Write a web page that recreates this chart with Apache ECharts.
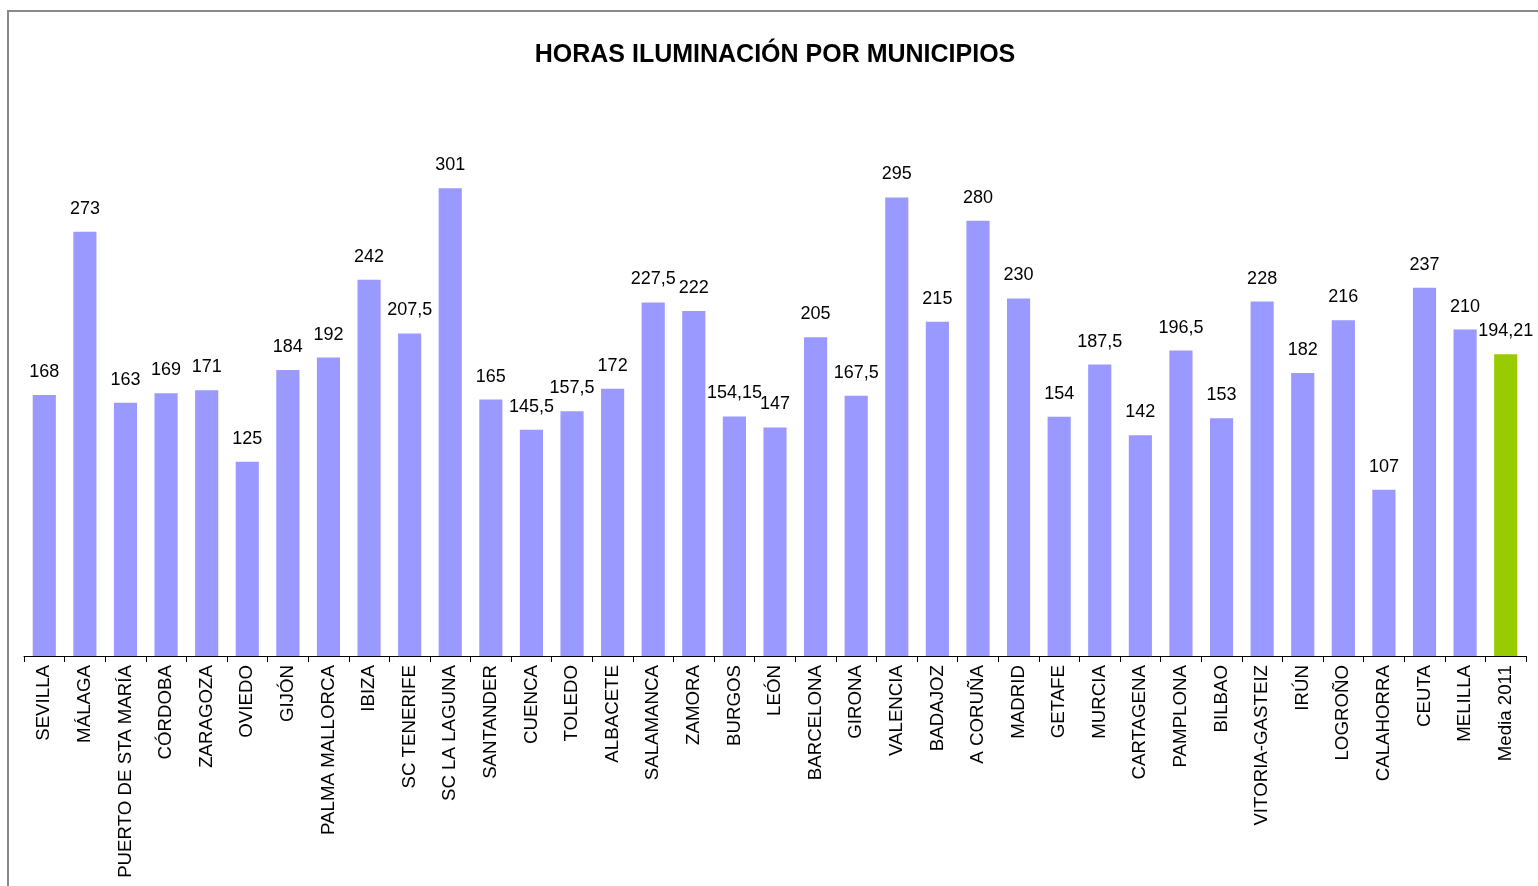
<!DOCTYPE html>
<html>
<head>
<meta charset="utf-8">
<script src="https://cdn.jsdelivr.net/npm/echarts@6/dist/echarts.min.js"></script>
<style>
    html, body { margin: 0; padding: 0; background: #fff; }
    #chart { width: 1538px; height: 886px; }
</style>
</head>
<body>
<div id="chart"></div>
<script>
    // municipios y horas de iluminación
    const categories = ['SEVILLA', 'MÁLAGA', 'PUERTO DE STA MARÍA', 'CÓRDOBA', 'ZARAGOZA', 'OVIEDO', 'GIJÓN',
        'PALMA MALLORCA', 'IBIZA', 'SC TENERIFE', 'SC LA LAGUNA', 'SANTANDER', 'CUENCA', 'TOLEDO', 'ALBACETE',
        'SALAMANCA', 'ZAMORA', 'BURGOS', 'LEÓN', 'BARCELONA', 'GIRONA', 'VALENCIA', 'BADAJOZ', 'A CORUÑA',
        'MADRID', 'GETAFE', 'MURCIA', 'CARTAGENA', 'PAMPLONA', 'BILBAO', 'VITORIA-GASTEIZ', 'IRÚN', 'LOGROÑO',
        'CALAHORRA', 'CEUTA', 'MELILLA', 'Media 2011'];
    const horas = [168, 273, 163, 169, 171, 125, 184, 192, 242, 207.5, 301, 165, 145.5, 157.5, 172,
        227.5, 222, 154.15, 147, 205, 167.5, 295, 215, 280, 230, 154, 187.5, 142, 196.5, 153, 228, 182, 216,
        107, 237, 210, 194.21];
    const mediaLabel = 'Media 2011';

    const barColor = '#9999FF';
    const mediaColor = '#99CC00';
    const font = 'Liberation Sans, Arial, sans-serif';

    const chart = echarts.init(document.getElementById('chart'));
    chart.setOption({
        backgroundColor: '#fff',
        animation: false,
        title: {
            text: 'HORAS ILUMINACIÓN POR MUNICIPIOS',
            left: 770,
            top: 38,
            textAlign: 'center',
            textStyle: { fontFamily: font, fontSize: 25, fontWeight: 'bold', color: '#000' }
        },
        graphic: [{
            type: 'rect',
            shape: { x: 8, y: 11, width: 1540, height: 890 },
            style: { fill: 'none', stroke: '#888', lineWidth: 2 },
            silent: true
        }],
        grid: { left: 24, right: 12, top: 112, bottom: 230 },
        xAxis: {
            type: 'category',
            data: categories,
            axisLine: { lineStyle: { color: '#000', width: 1 } },
            axisTick: { show: true, length: 6, lineStyle: { color: '#000' } },
            axisLabel: {
                rotate: 90,
                interval: 0,
                margin: 9,
                fontFamily: font,
                fontSize: 18.7,
                color: '#000'
            }
        },
        yAxis: {
            type: 'value',
            min: 0,
            max: 350,
            show: false,
            splitLine: { show: false }
        },
        series: [{
            type: 'bar',
            barWidth: '57%',
            data: horas.map((v, i) => ({
                value: v,
                itemStyle: { color: categories[i] === mediaLabel ? mediaColor : barColor }
            })),
            label: {
                show: true,
                position: 'top',
                distance: 14,
                fontFamily: font,
                fontSize: 18,
                color: '#000',
                formatter: p => String(p.value).replace('.', ',')
            }
        }]
    });
</script>
</body>
</html>
